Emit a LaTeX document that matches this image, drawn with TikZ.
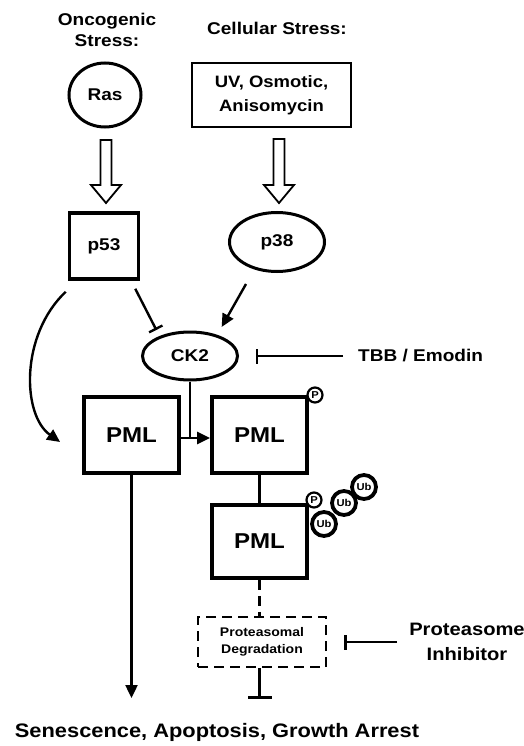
\documentclass[tikz,border=0pt]{standalone}
\usepackage{fontspec}
\setmainfont{Liberation Sans}[FakeStretch=1.12]
\usetikzlibrary{arrows.meta,calc,shapes.geometric}
\begin{document}
\begin{tikzpicture}[x=1pt,y=-1pt,
  lbl/.style={font=\bfseries\fontsize{17}{21}\selectfont, align=center, inner sep=0},
  oval/.style={ellipse, draw, line width=3pt, inner sep=0},
  box/.style={rectangle, draw, line width=2.5pt, inner sep=0},
  pml/.style={rectangle, draw, line width=3.8pt, inner sep=0, minimum width=95pt, minimum height=76pt,
    font=\bfseries\fontsize{21.5}{24}\selectfont},
  arr/.style={line width=2.4pt, -{Triangle[length=13pt,width=12pt]}},
  inhib/.style={line width=2.4pt, -{Bar[width=15pt,line width=2.4pt]}},
  hollow/.style={line width=1.8pt, draw, fill=white, line join=miter},
  tag/.style={circle, draw, fill=white, inner sep=0, font=\bfseries\fontsize{10}{11}\selectfont}]
\useasboundingbox (0,0) rectangle (524,746);

% titles
\node[lbl] (onc) at (107,30) {Oncogenic\\Stress:};
\node[lbl] (cell) at (277,28) {Cellular Stress:};

% top nodes
\node[oval, minimum width=72pt, minimum height=64pt, font=\bfseries\fontsize{17}{20}\selectfont] (ras) at (105,95) {Ras};
\node[box, minimum width=159pt, minimum height=64pt, line width=2.2pt, align=center,
  font=\bfseries\fontsize{16.5}{24}\selectfont] (uv) at (271.5,95) {UV, Osmotic,\\Anisomycin};

\node[box, line width=3.5pt, minimum width=69pt, minimum height=66pt, font=\bfseries\fontsize{17}{20}\selectfont] (p53) at (104,246) {p53};
\node[oval, minimum width=95pt, minimum height=59pt, font=\bfseries\fontsize{17}{20}\selectfont] (p38) at (277,242) {p38};

% hollow arrows
\coordinate (h1s) at (106,140);
\coordinate (h1e) at (106,203);
\coordinate (h2s) at (279,139);
\coordinate (h2e) at (279,203);
\foreach \s/\e in {h1s/h1e,h2s/h2e}{
  \path[hollow] ($(\s)+(-5.5,0)$) -- ($(\s)+(5.5,0)$) -- ($(\e)+(5.5,-18)$) -- ($(\e)+(15,-18)$)
    -- (\e) -- ($(\e)+(-15,-18)$) -- ($(\e)+(-5.5,-18)$) -- cycle;
}

% CK2
\node[oval, minimum width=95pt, minimum height=48pt, font=\bfseries\fontsize{17}{20}\selectfont] (ck2) at (190,356) {CK2};
\node[lbl, anchor=west] (tbb) at (358,356) {TBB / Emodin};

% PML boxes
\node[pml] (pml1) at (131.5,435) {PML};
\node[pml] (pml2) at (259.5,435) {PML};
\node[pml, minimum height=73pt] (pml3) at (259.5,541.5) {PML};

% proteasomal degradation
\node[rectangle, draw, dashed, dash pattern=on 10pt off 6pt, line width=2.5pt, minimum width=128pt, minimum height=50pt,
  align=center, font=\bfseries\fontsize{12.5}{17}\selectfont] (deg) at (262,642) {Proteasomal\\Degradation};
\node[lbl, font=\bfseries\fontsize{18}{25}\selectfont] (pinh) at (467,642) {Proteasome\\Inhibitor};

% outcome
\node[lbl, font=\bfseries\fontsize{19.5}{22}\selectfont] (sen) at (217,732) {Senescence, Apoptosis, Growth Arrest};

% modification tags
\node[tag, line width=2.2pt, minimum size=15pt] (pa) at (315,395) {P};
\node[tag, line width=2.2pt, minimum size=15pt] (pb) at (314,500) {P};
\node[tag, line width=3.8pt, minimum size=24pt] (ub1) at (324,524) {Ub};
\node[tag, line width=3.8pt, minimum size=24pt] (ub2) at (344,503) {Ub};
\node[tag, line width=3.8pt, minimum size=24pt] (ub3) at (364,487) {Ub};

% connectors
\draw[arr] ($(p53.south west)+(-2,11)$) .. controls (20,335) and (22,415) .. ($(pml1.west)+(-22,7)$);
\draw[inhib] ($(p53.south east)+(-5,8)$) -- ($(ck2.north west)+(1,-8)$);
\draw[arr] ($(p38.south)+(-31,11)$) -- ($(ck2.north east)+(-3,-11)$);
\draw[inhib, shorten <=15pt] (tbb.west) -- ($(ck2.east)+(17,0)$);

\coordinate (jn) at ($(pml1.east)+(0,3)$);
\draw[arr] (jn) -- ($(pml2.west)+(0,3)$);
\draw[line width=2.4pt] (ck2.south) -- (ck2.south |- jn);

\coordinate (outc) at (131.5,698);
\draw[arr] (pml1.south) -- (outc);

\draw[line width=2.6pt] (pml2.south) -- (pml3.north);
\draw[line width=2.6pt, dash pattern=on 10pt off 6pt] (pml3.south) -- (pml3.south |- deg.north);
\coordinate (degend) at (259.5,699);
\draw[line width=2.6pt, -{Bar[width=24pt,line width=2.6pt]}] (pml3.south |- deg.south) -- (degend);
\draw[inhib, shorten <=12pt] (pinh.west) -- ($(deg.east)+(17,0)$);
\end{tikzpicture}
\end{document}
